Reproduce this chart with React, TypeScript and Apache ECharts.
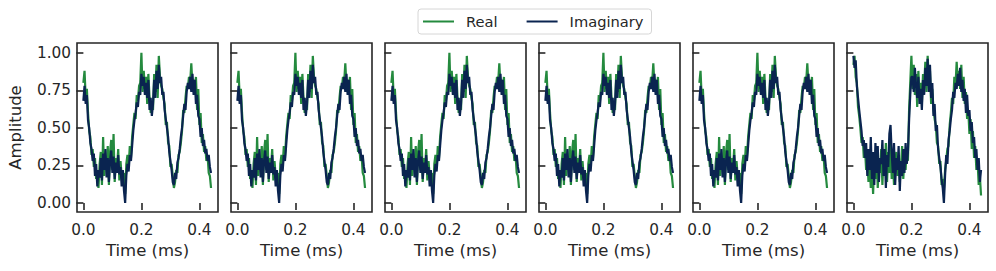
import React, { useEffect, useRef } from "react";
import * as echarts from "echarts";

// Sample spacing of the recorded signals (ms)
const TIME_STEP_MS = 0.004;

// Panels 1-5 (they look alike in the reference)
const realA = [
  0.80, 0.88, 0.70, 0.76, 0.60, 0.48, 0.44, 0.32, 0.36, 0.24,
  0.30, 0.16, 0.22, 0.10, 0.26, 0.34, 0.12, 0.44, 0.18, 0.30,
  0.24, 0.38, 0.12, 0.34, 0.42, 0.22, 0.46, 0.14, 0.30, 0.24,
  0.36, 0.15, 0.28, 0.18, 0.12, 0.20, 0.06, 0.26, 0.32, 0.24,
  0.38, 0.30, 0.44, 0.52, 0.60, 0.56, 0.72, 0.68, 0.78, 0.80,
  1.00, 0.74, 0.88, 0.76, 0.84, 0.66, 0.86, 0.70, 0.60, 0.66,
  0.62, 0.86, 0.74, 0.92, 0.70, 0.98, 0.84, 0.78, 0.76, 0.70,
  0.66, 0.52, 0.54, 0.40, 0.38, 0.24, 0.26, 0.18, 0.10, 0.14,
  0.22, 0.20, 0.32, 0.34, 0.40, 0.48, 0.62, 0.60, 0.70, 0.78,
  0.76, 0.84, 0.80, 0.93, 0.78, 0.82, 0.76, 0.84, 0.62, 0.76,
  0.52, 0.60, 0.40, 0.46, 0.34, 0.38, 0.28, 0.32, 0.20, 0.18,
  0.10,
];
const imagA = [
  0.68, 0.78, 0.66, 0.72, 0.55, 0.50, 0.40, 0.36, 0.28, 0.33,
  0.18, 0.26, 0.11, 0.22, 0.17, 0.30, 0.15, 0.33, 0.22, 0.36,
  0.17, 0.30, 0.14, 0.28, 0.35, 0.20, 0.31, 0.16, 0.27, 0.20,
  0.32, 0.19, 0.24, 0.11, 0.22, 0.08, 0.00, 0.18, 0.26, 0.21,
  0.32, 0.28, 0.38, 0.48, 0.55, 0.60, 0.67, 0.64, 0.74, 0.72,
  0.86, 0.78, 0.84, 0.72, 0.80, 0.70, 0.82, 0.62, 0.70, 0.58,
  0.66, 0.82, 0.70, 0.88, 0.76, 0.92, 0.80, 0.84, 0.72, 0.74,
  0.62, 0.56, 0.50, 0.44, 0.34, 0.28, 0.22, 0.14, 0.12, 0.20,
  0.16, 0.27, 0.30, 0.36, 0.44, 0.50, 0.58, 0.66, 0.62, 0.74,
  0.80, 0.76, 0.84, 0.74, 0.86, 0.72, 0.82, 0.66, 0.72, 0.58,
  0.56, 0.44, 0.50, 0.38, 0.42, 0.33, 0.36, 0.28, 0.32, 0.24,
  0.20,
];

// Panel 6 (noisier)
const realB = [
  0.92, 0.98, 0.84, 0.80, 0.64, 0.58, 0.50, 0.40, 0.44, 0.30,
  0.36, 0.22, 0.30, 0.14, 0.28, 0.10, 0.24, 0.06, 0.30, 0.16,
  0.34, 0.10, 0.26, 0.20, 0.36, 0.12, 0.30, 0.18, 0.40, 0.14,
  0.34, 0.20, 0.42, 0.16, 0.30, 0.12, 0.26, 0.34, 0.18, 0.30,
  0.14, 0.24, 0.38, 0.16, 0.30, 0.22, 0.36, 0.28, 0.62, 0.80,
  0.98, 0.76, 0.92, 0.72, 0.86, 0.64, 0.88, 0.70, 0.80, 0.66,
  0.86, 0.78, 0.94, 0.74, 0.98, 0.82, 0.88, 0.66, 0.76, 0.62,
  0.56, 0.52, 0.40, 0.38, 0.26, 0.28, 0.12, 0.16, 0.08, 0.22,
  0.28, 0.36, 0.38, 0.52, 0.60, 0.70, 0.66, 0.84, 0.78, 0.94,
  0.80, 0.88, 0.76, 0.92, 0.70, 0.84, 0.66, 0.74, 0.56, 0.62,
  0.46, 0.56, 0.36, 0.48, 0.30, 0.38, 0.22, 0.28, 0.12, 0.18,
  0.05,
];
const imagB = [
  0.98, 0.90, 0.95, 0.78, 0.70, 0.62, 0.55, 0.48, 0.38, 0.42,
  0.30, 0.40, 0.18, 0.36, 0.22, 0.44, 0.16, 0.34, 0.12, 0.40,
  0.20, 0.38, 0.14, 0.30, 0.26, 0.42, 0.18, 0.36, 0.10, 0.32,
  0.24, 0.46, 0.52, 0.34, 0.20, 0.40, 0.12, 0.30, 0.22, 0.38,
  0.08, 0.28, 0.18, 0.36, 0.20, 0.40, 0.26, 0.34, 0.55, 0.72,
  0.84, 0.84, 0.74, 0.90, 0.78, 0.70, 0.84, 0.66, 0.76, 0.62,
  0.82, 0.72, 0.90, 0.78, 0.96, 0.74, 0.92, 0.70, 0.80, 0.58,
  0.66, 0.48, 0.52, 0.36, 0.30, 0.24, 0.16, 0.10, 0.00, 0.18,
  0.32, 0.26, 0.42, 0.48, 0.56, 0.62, 0.74, 0.70, 0.80, 0.76,
  0.86, 0.78, 0.90, 0.74, 0.82, 0.68, 0.76, 0.60, 0.72, 0.58,
  0.62, 0.48, 0.54, 0.40, 0.44, 0.30, 0.36, 0.22, 0.30, 0.14,
  0.22,
];

const panelReal = [realA, realA, realA, realA, realA, realB];
const panelImag = [imagA, imagA, imagA, imagA, imagA, imagB];

const seriesNames = ["Real", "Imaginary"];
const xTickValues = [0, 0.2, 0.4];
const yTickValues = [0, 0.25, 0.5, 0.75, 1.0];

const GREEN = "#248a3e";
const NAVY = "#0a2450";
const INK = "#262626";
const FONT = "DejaVu Sans";

function toPairs(values: number[]) {
  return values.map((v, i) => [+(i * TIME_STEP_MS).toFixed(3), v]);
}

export default function App() {
  const ref = useRef<HTMLDivElement>(null);
  useEffect(() => {
    document.body.style.margin = "0";
    if (!ref.current) return;
    const chart = echarts.init(ref.current, null, { renderer: "svg" });
    const n = panelReal.length;
    const grids = [];
    const xAxes = [];
    const yAxes = [];
    const series = [];
    for (let i = 0; i < n; i++) {
      grids.push({
        left: 77 + 154 * i,
        top: 43,
        width: 141,
        height: 169,
        show: true,
        borderColor: INK,
        borderWidth: 1.6,
        backgroundColor: "#ffffff",
      });
      xAxes.push({
        type: "value",
        gridIndex: i,
        min: -0.022,
        max: 0.464,
        axisLine: { show: false },
        splitLine: { show: false },
        axisTick: {
          show: true,
          length: 7,
          customValues: xTickValues,
          lineStyle: { color: INK, width: 1.6 },
        },
        axisLabel: {
          show: true,
          customValues: xTickValues,
          formatter: (v: number) => v.toFixed(1),
          color: INK,
          fontSize: 15.3,
          fontFamily: FONT,
          margin: 10,
        },
        name: "Time (ms)",
        nameLocation: "middle",
        nameGap: 25,
        nameTextStyle: { color: INK, fontSize: 16.5, fontFamily: FONT },
      });
      yAxes.push({
        type: "value",
        gridIndex: i,
        min: -0.06,
        max: 1.066,
        axisLine: { show: false },
        splitLine: { show: false },
        axisTick: {
          show: true,
          length: 7,
          customValues: yTickValues,
          lineStyle: { color: INK, width: 1.6 },
        },
        axisLabel: {
          show: i === 0,
          customValues: yTickValues,
          formatter: (v: number) => v.toFixed(2),
          color: INK,
          fontSize: 15.3,
          fontFamily: FONT,
          margin: 6,
        },
        name: i === 0 ? "Amplitude" : "",
        nameLocation: "middle",
        nameGap: 53,
        nameTextStyle: { color: INK, fontSize: 16.5, fontFamily: FONT },
      });
      series.push({
        name: seriesNames[0],
        type: "line",
        xAxisIndex: i,
        yAxisIndex: i,
        data: toPairs(panelReal[i]),
        showSymbol: false,
        color: GREEN,
        lineStyle: { color: GREEN, width: 2.2 },
      });
      series.push({
        name: seriesNames[1],
        type: "line",
        xAxisIndex: i,
        yAxisIndex: i,
        data: toPairs(panelImag[i]),
        showSymbol: false,
        color: NAVY,
        lineStyle: { color: NAVY, width: 2.2 },
      });
    }
    chart.setOption({
      animation: false,
      backgroundColor: "#ffffff",
      textStyle: { fontFamily: FONT },
      legend: {
        data: seriesNames,
        left: 418,
        top: 9,
        padding: [5, 8, 5, 5],
        itemGap: 29,
        itemWidth: 31,
        itemHeight: 2,
        icon: "rect",
        borderColor: "#d6d6d6",
        borderWidth: 1,
        borderRadius: 3,
        backgroundColor: "#ffffff",
        textStyle: { color: INK, fontSize: 14.67, fontFamily: FONT, padding: [0, 0, 0, 7] },
      },
      grid: grids,
      xAxis: xAxes,
      yAxis: yAxes,
      series,
    });
    return () => chart.dispose();
  }, []);
  return <div ref={ref} style={{ width: 996, height: 271 }} />;
}
